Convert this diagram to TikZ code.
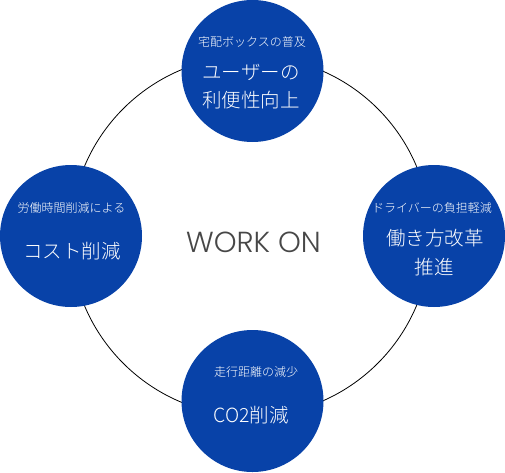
\documentclass[tikz,border=0pt]{standalone}
\usepackage{fontspec}
\IfFontExistsTF{Noto Sans CJK JP Light}{\newfontfamily\jp{Noto Sans CJK JP Light}}{\newfontfamily\jp{Noto Sans CJK JP}}
\IfFontExistsTF{Poppins Light}{\newfontfamily\wk{Poppins Light}}{%
  \IfFontExistsTF{Lato Light}{\newfontfamily\wk{Lato Light}}{%
    \IfFontExistsTF{Fira Sans Light}{\newfontfamily\wk{Fira Sans Light}}{\newfontfamily\wk{Lato}}}}
\definecolor{cblue}{RGB}{8,66,168}
\begin{document}
\begin{tikzpicture}[x=1pt,y=1pt,
  bubble/.style={circle,fill=cblue,minimum size=142pt,inner sep=0pt},
  small/.style={text=white,inner sep=0pt,font=\jp\fontsize{12}{12}\selectfont},
  big/.style={text=white,inner sep=0pt,font=\jp\fontsize{19.5}{20}\selectfont}]
\useasboundingbox (0,0) rectangle (505,472);
\coordinate (c) at (250.5,236);
\draw[line width=0.8pt] (c) circle (180);
\node[bubble] (top) at (252.5,401) {};
\node[bubble] (left) at (71,236) {};
\node[bubble] (right) at (434,236) {};
\node[bubble] (bottom) at (252.5,71) {};
\node[small] (t1) at (252,430) {宅配ボックスの普及};
\node[big] (t2) at (251,400) {ユーザーの};
\node[big] (t3) at (251,372) {利便性向上};
\node[small] (l1) at (71.5,264) {労働時間削減による};
\node[big] (l2) at (72,221) {コスト削減};
\node[small] (r1) at (432,264) {ドライバーの負担軽減};
\node[big] (r2) at (435,234) {働き方改革};
\node[big] (r3) at (434,205) {推進};
\node[small] (b1) at (256,100) {走行距離の減少};
\node[big] (b2) at (251,57) {CO2削減};
\node[inner sep=0pt,font=\wk\fontsize{29}{29}\selectfont,text=black!72] (w) at (253.5,230) {WORK ON};
\end{tikzpicture}
\end{document}
